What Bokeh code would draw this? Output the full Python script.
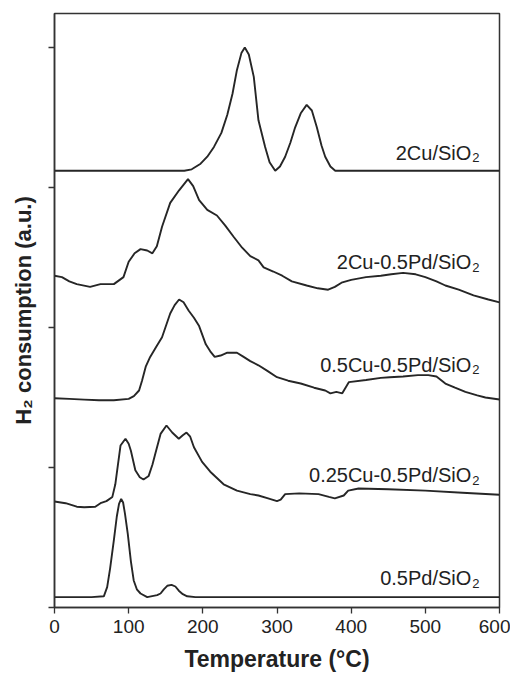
from bokeh.plotting import figure
from bokeh.models import Label, FixedTicker
from bokeh.embed import file_html
from bokeh.resources import INLINE

# ---- data (temperature in °C, H2 consumption in stacked a.u.) ----
x_2cu = [0, 50, 100, 150, 175, 185, 197, 206, 215, 225, 233, 240, 246, 252, 256.6, 262, 268.7, 275, 284, 290,
         297.6, 304, 311, 318, 324.5, 332, 340, 347, 353.7, 360, 365, 372, 378.5, 400, 450, 500, 550, 600]
y_2cu = [3.12, 3.12, 3.12, 3.12, 3.12, 3.13, 3.17, 3.22, 3.29, 3.39, 3.52, 3.67, 3.84, 3.96, 4.0, 3.95, 3.79, 3.48, 3.29, 3.18,
         3.12, 3.15, 3.22, 3.32, 3.43, 3.53, 3.59, 3.55, 3.43, 3.30, 3.22, 3.15, 3.12, 3.12, 3.12, 3.12, 3.12, 3.12]

x_2cu05pd = [0, 10, 20, 30, 48, 62, 80, 93, 100, 108, 116, 125, 132, 138, 145, 156, 168, 180, 187, 195,
             206, 219, 230, 242, 253, 264, 275, 282, 295, 307, 320, 340, 355, 369, 378, 387, 400, 420, 440, 454,
             470, 487, 500, 515, 527, 545, 565, 585, 600]
y_2cu05pd = [2.37, 2.36, 2.33, 2.31, 2.29, 2.31, 2.31, 2.36, 2.47, 2.53, 2.56, 2.55, 2.53, 2.58, 2.72, 2.89, 2.98, 3.06, 3.01, 2.91,
             2.84, 2.80, 2.73, 2.645, 2.57, 2.51, 2.48, 2.43, 2.40, 2.37, 2.33, 2.30, 2.28, 2.27, 2.29, 2.32, 2.34, 2.36, 2.37, 2.38,
             2.39, 2.38, 2.36, 2.33, 2.30, 2.27, 2.23, 2.20, 2.18]

x_05cu05pd = [0, 20, 40, 60, 80, 100, 107, 114, 118, 123, 129, 137, 145, 156, 162, 168, 174, 181, 188, 195,
              204, 210, 216, 224, 233, 240, 246, 255, 264, 275, 287, 300, 315, 332, 350, 365, 372, 380, 388, 397,
              420, 440, 452, 470, 490, 504, 515, 527, 540, 554, 570, 581, 600]
y_05cu05pd = [1.495, 1.49, 1.485, 1.48, 1.48, 1.49, 1.51, 1.55, 1.62, 1.72, 1.79, 1.86, 1.93, 2.10, 2.16, 2.20, 2.18, 2.12, 2.07, 2.01,
              1.88, 1.83, 1.79, 1.80, 1.82, 1.82, 1.82, 1.79, 1.76, 1.73, 1.69, 1.645, 1.62, 1.60, 1.57, 1.55, 1.53, 1.54, 1.53, 1.61,
              1.625, 1.64, 1.645, 1.65, 1.66, 1.66, 1.65, 1.60, 1.57, 1.54, 1.515, 1.50, 1.486]

x_025cu05pd = [0, 15, 30, 40, 55, 62, 70, 78, 82, 85, 89, 95.7, 100, 103, 109, 115, 120, 127, 132, 136,
               143, 151, 158.7, 167.6, 173, 178, 183, 188, 199, 210, 228, 246, 264, 275, 288, 300, 305, 311, 330, 356,
               370, 378, 390, 396, 410, 450, 500, 550, 600]
y_025cu05pd = [0.757, 0.745, 0.72, 0.716, 0.72, 0.745, 0.76, 0.79, 0.88, 1.0, 1.157, 1.205, 1.17, 1.12, 0.98, 0.93, 0.914, 0.94, 1.02, 1.10,
               1.24, 1.30, 1.25, 1.205, 1.23, 1.25, 1.22, 1.145, 1.04, 0.97, 0.88, 0.835, 0.81, 0.80, 0.78, 0.76, 0.77, 0.81, 0.815, 0.81,
               0.79, 0.78, 0.80, 0.835, 0.85, 0.845, 0.835, 0.82, 0.805]

x_05pd = [0, 50, 66.5, 71, 75, 80, 84, 87, 89.9, 92.5, 95, 98.8, 103, 106.8, 111, 116, 125, 138.4, 143, 147.4,
          152, 157.8, 163, 167.6, 173, 178.9, 190, 250, 300, 400, 500, 600]
y_05pd = [0.074, 0.074, 0.08, 0.145, 0.28, 0.48, 0.65, 0.74, 0.776, 0.75, 0.67, 0.526, 0.33, 0.193, 0.13, 0.10, 0.074, 0.088, 0.10, 0.13,
          0.155, 0.162, 0.15, 0.12, 0.095, 0.08, 0.074, 0.074, 0.074, 0.074, 0.074, 0.074]

series_x = [x_2cu, x_2cu05pd, x_05cu05pd, x_025cu05pd, x_05pd]
series_y = [y_2cu, y_2cu05pd, y_05cu05pd, y_025cu05pd, y_05pd]
label_main = ["2Cu/SiO", "2Cu-0.5Pd/SiO", "0.5Cu-0.5Pd/SiO", "0.25Cu-0.5Pd/SiO", "0.5Pd/SiO"]
label_sub = "2"
x_ticks = [0, 100, 200, 300, 400, 500, 600]
y_ticks = [0, 1, 2, 3, 4]

# ---- layout / style ----
label_base = [3.25, 2.465, 1.735, 0.945, 0.21]
FONT = "Liberation Sans"
INK = "#262626"
AX = "#333333"

p = figure(width=510, height=674, x_range=(0, 600), y_range=(0, 4.243),
           output_backend="svg", toolbar_location=None,
           min_border_left=54, min_border_right=11, min_border_top=13, min_border_bottom=67)

for xs, ys in zip(series_x, series_y):
    p.line(xs, ys, line_color=INK, line_width=1.9)

for txt, yb in zip(label_main, label_base):
    p.add_layout(Label(x=562, y=yb, text=txt, text_align="right", text_baseline="alphabetic",
                       text_font=FONT, text_font_size="20px", text_color="#222222"))
    p.add_layout(Label(x=562, y=yb - 0.036, x_offset=1, text=label_sub, text_align="left",
                       text_baseline="alphabetic", text_font=FONT, text_font_size="13px",
                       text_color="#222222"))

p.xaxis.ticker = FixedTicker(ticks=x_ticks)
p.yaxis.ticker = FixedTicker(ticks=y_ticks)
p.yaxis.major_label_overrides = {t: "" for t in y_ticks}
p.yaxis.major_label_standoff = 0

p.yaxis.axis_label = "H\u2082 consumption (a.u.)"
p.yaxis.axis_label_text_font = FONT
p.yaxis.axis_label_text_font_size = "22px"
p.yaxis.axis_label_text_font_style = "bold"
p.yaxis.axis_label_text_color = "#222222"
p.yaxis.axis_label_standoff = 13

p.xaxis.axis_label = "Temperature (°C)"
p.xaxis.axis_label_text_font = FONT
p.xaxis.axis_label_text_font_size = "23px"
p.xaxis.axis_label_text_font_style = "bold"
p.xaxis.axis_label_text_color = "#222222"
p.xaxis.axis_label_standoff = 10
p.xaxis.major_label_standoff = 6
p.xaxis.major_label_text_font = FONT
p.xaxis.major_label_text_font_size = "19px"
p.xaxis.major_label_text_color = "#222222"

p.axis.minor_tick_line_color = None
p.axis.major_tick_in = 0
p.axis.major_tick_out = 6
p.axis.major_tick_line_color = AX
p.axis.major_tick_line_width = 1.3
p.axis.axis_line_color = AX
p.axis.axis_line_width = 1.5

p.xgrid.grid_line_color = None
p.ygrid.grid_line_color = None
p.outline_line_color = AX
p.outline_line_width = 1.5
p.outline_line_alpha = 1.0
p.background_fill_color = "white"
p.border_fill_color = "white"

open("out.html", "w").write(file_html(p, INLINE))
